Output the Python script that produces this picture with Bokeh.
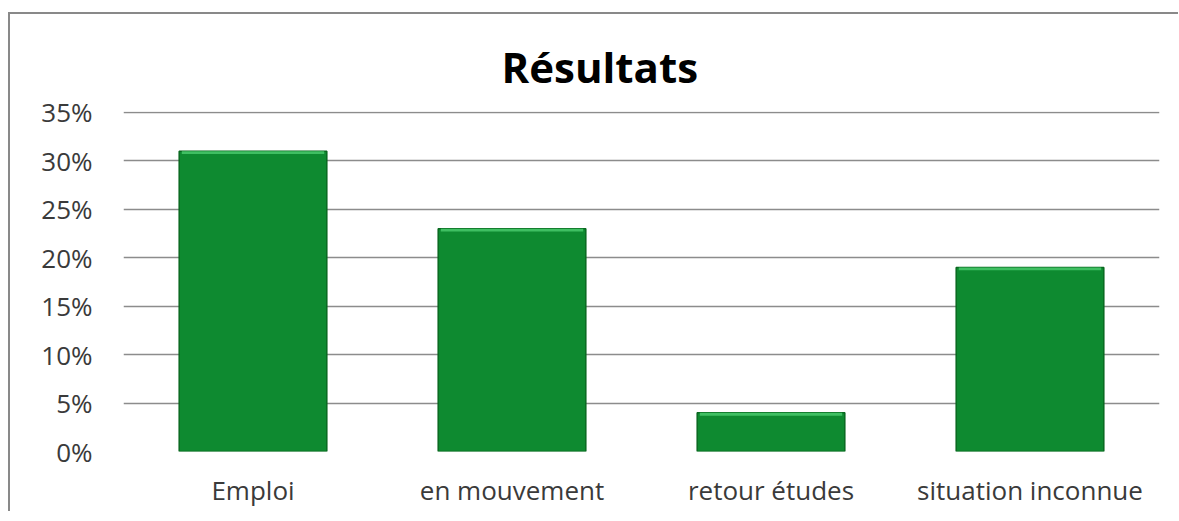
from bokeh.plotting import figure
from bokeh.models import Range1d, FixedTicker, NumeralTickFormatter
from bokeh.embed import file_html
from bokeh.resources import INLINE

categories = ["Emploi", "en mouvement", "retour études", "situation inconnue"]
values = [0.31, 0.23, 0.04, 0.19]
y_ticks = [0, 0.05, 0.10, 0.15, 0.20, 0.25, 0.30, 0.35]

FONT = "Open Sans"
TEXT = "#3a3a3a"

p = figure(
    x_range=categories,
    y_range=Range1d(0, 0.351),
    frame_width=1036, frame_height=340,
    output_backend="svg", toolbar_location=None,
    min_border_left=113, min_border_right=19,
    min_border_top=97, min_border_bottom=60,
    title="Résultats",
    styles={"border-left": "2px solid #898989", "border-top": "2px solid #898989",
            "margin-top": "12px", "margin-left": "8px"},
)
p.x_range.range_padding = 0

p.vbar(x=categories, top=values, width=0.57,
       fill_color="#0e8a30", line_color="#08681f", line_width=1.5)
# light bevel along the top edge of each bar
p.vbar(x=categories, top=values, bottom=[v - 0.003 for v in values], width=0.55,
       fill_color="#3fbf62", line_color=None)

p.title.text_font = FONT
p.title.text_font_size = "42px"
p.title.text_font_style = "bold"
p.title.text_color = "#000000"
p.title.align = "left"
p.title.vertical_align = "top"
p.title.offset = 378
p.title.standoff = 30

p.outline_line_color = None
p.xgrid.grid_line_color = None
p.ygrid.grid_line_color = "#8c8c8c"
p.ygrid.grid_line_width = 1.5

p.yaxis.ticker = FixedTicker(ticks=y_ticks)
p.yaxis.formatter = NumeralTickFormatter(format="0%")
for ax in (p.xaxis, p.yaxis):
    ax.axis_line_color = None
    ax.major_tick_line_color = None
    ax.minor_tick_line_color = None
    ax.major_label_text_font = FONT
    ax.major_label_text_font_size = "26px"
    ax.major_label_text_color = TEXT
p.yaxis.major_label_standoff = 25
p.xaxis.major_label_standoff = 14

open("out.html", "w").write(file_html(p, INLINE))
